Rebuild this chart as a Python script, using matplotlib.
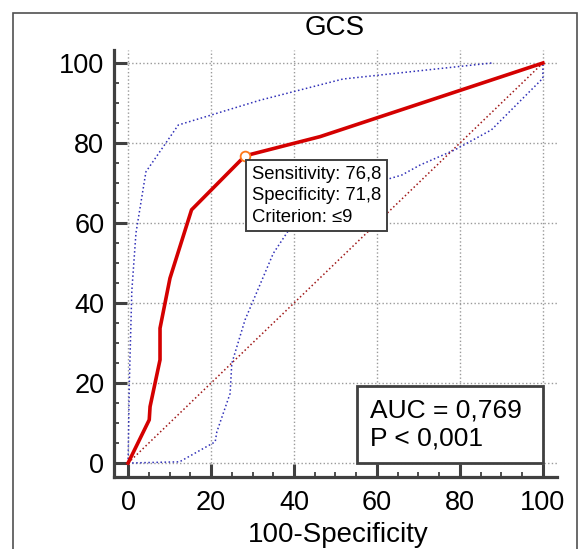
"""
ROC curve for GCS (with 95% CI bands) - static PNG
"""

import matplotlib
matplotlib.use("Agg")
import matplotlib.pyplot as plt
from matplotlib.patches import Rectangle

plt.rcParams["font.family"] = ["Liberation Sans", "DejaVu Sans"]

# ── data ─────────────────────────────────────────────────────────────────────

roc_x = [0, 5.1, 5.3, 7.7, 7.7, 10.1, 15.3, 28.2, 46.3, 100]
roc_y = [0, 10.8, 14.1, 25.8, 33.7, 46.2, 63.3, 76.8, 81.6, 100]

ci_hi_x = [0, 0.3, 0.9, 1.9, 4.3, 12.1, 31.8, 51.8, 87.6]
ci_hi_y = [0, 20, 43, 57.5, 72.8, 84.5, 90.7, 96.0, 100]

ci_lo_x = [0, 12.4, 21.0, 21.4, 24.6, 25.0, 28.2, 35.0, 39.8, 62.4, 66.0, 70.4, 78.8, 87.6, 100, 100]
ci_lo_y = [0, 0.3, 5.3, 7.8, 17.4, 24.9, 35.8, 52.4, 59.9, 70.9, 72.0, 74.5, 78.3, 83.3, 96.2, 100]

crit_x, crit_y = 28.2, 76.8
crit_label = "Sensitivity: 76,8\nSpecificity: 71,8\nCriterion: \u22649"
auc_label = "AUC = 0,769\nP < 0,001"

ticks = [0, 20, 40, 60, 80, 100]
minor = list(range(0, 101, 5))

AXIS_COL = "#404040"


def main() -> None:
    fig = plt.figure(figsize=(5.86, 5.49), dpi=100)
    ax = fig.add_axes([0.1945, 0.1311, 0.756, 0.7778])
    ax.set_xlim(-3.4, 103.4)
    ax.set_ylim(-3.5, 103.25)

    # grid only spans the data range 0..max
    xmax = ax.get_xlim()[1]
    ymax = ax.get_ylim()[1]
    ax.hlines(ticks, 0, xmax, colors="#9a9a9a", linestyles=":", lw=1, zorder=1)
    ax.vlines(ticks, 0, ymax, colors="#9a9a9a", linestyles=":", lw=1, zorder=1)

    # curves
    ax.plot([0, 100], [0, 100], ls=":", color="#a01818", lw=1.1, zorder=2)
    ax.plot(ci_hi_x, ci_hi_y, ls=":", color="#3030b8", lw=1.1, zorder=2)
    ax.plot(ci_lo_x, ci_lo_y, ls=":", color="#3030b8", lw=1.1, zorder=2)
    ax.plot(roc_x, roc_y, color="#d40000", lw=2.6, zorder=3, solid_joinstyle="round")
    ax.plot([crit_x], [crit_y], marker="o", ms=7, mfc="white", mec="#ff7a1a",
            mew=1.3, zorder=4)

    ax.annotate(crit_label, xy=(crit_x, crit_y), xytext=(5, -7),
                textcoords="offset points", ha="left", va="top", fontsize=13.3,
                linespacing=1.36, zorder=6,
                bbox=dict(boxstyle="square,pad=0.3", fc="white", ec=AXIS_COL, lw=1.4))

    # AUC box (bottom right)
    ax.add_patch(Rectangle((55.2, 0), 100 - 55.2, 19.25, fc="white", ec=AXIS_COL,
                           lw=2, zorder=5))
    ax.text(58.3, 9.6, auc_label, ha="left", va="center", fontsize=19,
            linespacing=1.2, zorder=6)

    # axes styling
    for side in ("top", "right"):
        ax.spines[side].set_visible(False)
    for side in ("left", "bottom"):
        ax.spines[side].set_linewidth(2.3)
        ax.spines[side].set_color(AXIS_COL)
    ax.set_xticks(ticks)
    ax.set_yticks(ticks)
    ax.set_xticks(minor, minor=True)
    ax.set_yticks(minor, minor=True)
    ax.tick_params(which="major", direction="in", length=9.5, width=2.2,
                   color=AXIS_COL, labelsize=19.5, pad=7)
    ax.tick_params(which="minor", direction="in", length=3.8, width=1.3,
                   color=AXIS_COL)
    ax.tick_params(axis="x", which="major", pad=9)

    fig.text(335 / 586, 1 - 28 / 549, "GCS", ha="center", va="center", fontsize=20)
    fig.text(338 / 586, 1 - 535 / 549, "100-Specificity", ha="center", va="center",
             fontsize=20)

    # outer frame of the exported panel
    fig.add_artist(Rectangle((13 / 586, -0.05), 564 / 586, 1.05 - 13 / 549,
                             transform=fig.transFigure, fill=False,
                             ec="#505050", lw=1.2))

    fig.savefig("out.png", dpi=100)
    plt.close(fig)


if __name__ == "__main__":
    main()
